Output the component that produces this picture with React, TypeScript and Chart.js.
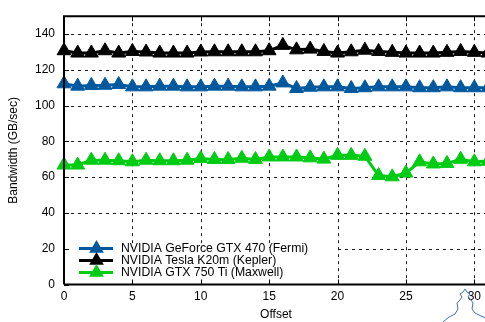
import React, { useEffect, useRef } from 'react';
import { Chart, registerables } from 'chart.js';

Chart.register(...registerables);

const offsets = [0, 1, 2, 3, 4, 5, 6, 7, 8, 9, 10, 11, 12, 13, 14, 15, 16, 17, 18, 19, 20, 21, 22, 23, 24, 25, 26, 27, 28, 29, 30, 31];
const fermi = [112.2, 110.9, 111.3, 111.4, 111.8, 110.5, 110.5, 110.9, 110.9, 110.5, 110.5, 110.9, 110.9, 110.5, 110.5, 110.9, 112.7, 109.6, 110.3, 110.5, 110.5, 109.6, 110.0, 110.5, 110.5, 110.5, 110.0, 110.0, 110.5, 110.0, 110.0, 110.0];
const kepler = [130.7, 129.4, 129.4, 130.7, 129.4, 130.3, 130.0, 129.4, 129.4, 129.4, 130.0, 130.1, 130.1, 130.1, 130.1, 130.7, 133.7, 131.2, 131.6, 130.3, 129.4, 130.1, 131.0, 130.3, 129.8, 129.4, 129.4, 129.4, 129.8, 130.3, 129.8, 129.4];
const maxwell = [66.8, 66.8, 69.5, 69.5, 69.2, 68.6, 69.5, 69.2, 69.2, 69.5, 70.4, 69.9, 69.9, 70.6, 69.9, 71.3, 71.3, 71.3, 70.8, 70.1, 72.2, 72.2, 71.7, 60.9, 60.2, 62.3, 68.6, 67.4, 67.7, 70.0, 68.6, 68.9];
const seriesLabels = ['NVIDIA GeForce GTX 470 (Fermi)', 'NVIDIA Tesla K20m (Kepler)', 'NVIDIA GTX 750 Ti (Maxwell)'];
const seriesColors = ['#00589e', '#000000', '#00cc14'];
const yTickValues = [0, 20, 40, 60, 80, 100, 120, 140];
const xTickValues = [0, 5, 10, 15, 20, 25, 30];
const xTitle = 'Offset';
const yTitle = 'Bandwidth (GB/sec)';

const FONT = '"Liberation Sans", Arial, Helvetica, sans-serif';

function triangle(ctx: CanvasRenderingContext2D, x: number, y: number, r: number) {
  ctx.beginPath();
  ctx.moveTo(x, y - r);
  ctx.lineTo(x - r * Math.sin(Math.PI / 3), y + r * 0.5);
  ctx.lineTo(x + r * Math.sin(Math.PI / 3), y + r * 0.5);
  ctx.closePath();
  ctx.fill();
}

const overlay = {
  id: 'overlay',
  beforeDatasetsDraw(chart: any) {
    const { ctx, chartArea: a, scales } = chart;
    const x = scales.x;
    const y = scales.y;
    const bx = Math.round(x.getPixelForValue(20)) - 1;
    const by = Math.round(y.getPixelForValue(20)) - 1;
    const dash = 3;
    const gap = 4;
    ctx.save();
    ctx.fillStyle = '#1a1a1a';
    xTickValues.forEach((v) => {
      if (v === 0) return;
      const px = Math.round(x.getPixelForValue(v));
      const bottom = v < 20 ? by : a.bottom;
      for (let yy = a.top; yy < bottom; yy += dash + gap) {
        ctx.fillRect(px, yy, 1, Math.min(dash, bottom - yy));
      }
    });
    yTickValues.forEach((v) => {
      if (v === 0) return;
      const py = Math.round(y.getPixelForValue(v));
      const start = v <= 20 ? bx + 1 : a.left;
      for (let xx = start; xx < a.right + 20; xx += dash + gap) {
        ctx.fillRect(xx, py, dash, 1);
      }
    });
    ctx.restore();
  },
  afterDatasetsDraw(chart: any) {
    const { ctx, chartArea: a, scales } = chart;
    const x = scales.x;
    const y = scales.y;
    ctx.save();
    // tick marks
    ctx.fillStyle = '#000';
    xTickValues.forEach((v) => {
      const px = Math.round(x.getPixelForValue(v));
      ctx.fillRect(px, a.bottom - 5, 1, 5);
      ctx.fillRect(px, a.top, 1, 5);
    });
    yTickValues.forEach((v) => {
      const py = Math.round(y.getPixelForValue(v));
      ctx.fillRect(a.left, py, 5, 1);
    });
    // borders
    ctx.strokeStyle = '#000';
    ctx.lineWidth = 2;
    ctx.beginPath();
    ctx.moveTo(a.left, a.bottom);
    ctx.lineTo(a.left, a.top);
    ctx.lineTo(a.right + 20, a.top);
    ctx.moveTo(a.left, a.bottom);
    ctx.lineTo(a.right + 20, a.bottom);
    ctx.stroke();

    // legend
    const rows = [248.5, 260.5, 272.5];
    ctx.font = `12.25px ${FONT}`;
    ctx.textBaseline = 'middle';
    ctx.textAlign = 'left';
    rows.forEach((ry, i) => {
      ctx.strokeStyle = seriesColors[i];
      ctx.fillStyle = seriesColors[i];
      ctx.lineWidth = 3;
      ctx.beginPath();
      ctx.moveTo(79, ry);
      ctx.lineTo(113, ry);
      ctx.stroke();
      triangle(ctx, 96.5, ry, 8.5);
      ctx.fillStyle = '#000';
      ctx.fillText(seriesLabels[i], 121, ry + 0.5);
    });

    // titles
    ctx.font = `12px ${FONT}`;
    ctx.fillStyle = '#000';
    ctx.textAlign = 'center';
    ctx.fillText(xTitle, (a.left + a.right) / 2, 315);
    ctx.save();
    ctx.translate(14, (a.top + a.bottom) / 2);
    ctx.rotate(-Math.PI / 2);
    ctx.fillText(yTitle, 0, 0);
    ctx.restore();

    // small watermark outline (bottom right)
    ctx.strokeStyle = '#3d6fb8';
    ctx.lineWidth = 1;
    ctx.beginPath();
    const pts = [[443, 322], [449, 317], [455, 314], [458, 309], [457, 303], [460, 300], [462, 297], [460, 294], [463, 292], [465, 289], [467, 292], [470, 294], [468, 297], [471, 300], [473, 303], [472, 309], [475, 313], [481, 316], [486, 318]];
    pts.forEach((p, i) => (i === 0 ? ctx.moveTo(p[0], p[1]) : ctx.lineTo(p[0], p[1])));
    ctx.stroke();
    ctx.restore();
  },
};

export default function App() {
  const ref = useRef<HTMLCanvasElement | null>(null);
  useEffect(() => {
    if (!ref.current) return;
    const mk = (vals: number[]) => offsets.map((o, i) => ({ x: o, y: vals[i] }));
    const allSeries = [fermi, kepler, maxwell];
    const chart = new Chart(ref.current, {
      type: 'line',
      data: {
        datasets: allSeries.map((vals, i) => ({
          label: seriesLabels[i],
          data: mk(vals),
          borderColor: seriesColors[i],
          backgroundColor: seriesColors[i],
          borderWidth: 3,
          pointStyle: 'triangle',
          pointRadius: 8,
          pointBackgroundColor: seriesColors[i],
          pointBorderColor: seriesColors[i],
          pointBorderWidth: 1,
          tension: 0,
          clip: false,
          fill: false,
        })),
      },
      options: {
        responsive: false,
        animation: false,
        devicePixelRatio: 1,
        layout: { padding: { top: 6.5, right: 12, left: 0, bottom: 0 } },
        plugins: { legend: { display: false }, tooltip: { enabled: false }, title: { display: false } },
        scales: {
          x: {
            type: 'linear',
            min: 0,
            max: 31,
            afterFit: (s: any) => { s.height = 37.5; },
            ticks: { stepSize: 5, includeBounds: false, padding: 5, color: '#000', font: { family: FONT, size: 12 } },
            grid: { display: false, drawTicks: false, tickLength: 0 },
            border: { display: false },
          },
          y: {
            type: 'linear',
            min: 0,
            max: 150,
            afterFit: (s: any) => { s.width = 64; },
            ticks: { stepSize: 20, includeBounds: false, padding: 9, color: '#000', font: { family: FONT, size: 12 } },
            grid: { display: false, drawTicks: false, tickLength: 0 },
            border: { display: false },
          },
        },
      },
      plugins: [overlay],
    } as any);
    return () => chart.destroy();
  }, []);
  return (
    <div style={{ position: 'fixed', left: 0, top: 0, width: 485, height: 322, overflow: 'hidden', background: '#fff' }}>
      <canvas ref={ref} width={500} height={322} style={{ display: 'block', width: 500, height: 322 }} />
    </div>
  );
}
